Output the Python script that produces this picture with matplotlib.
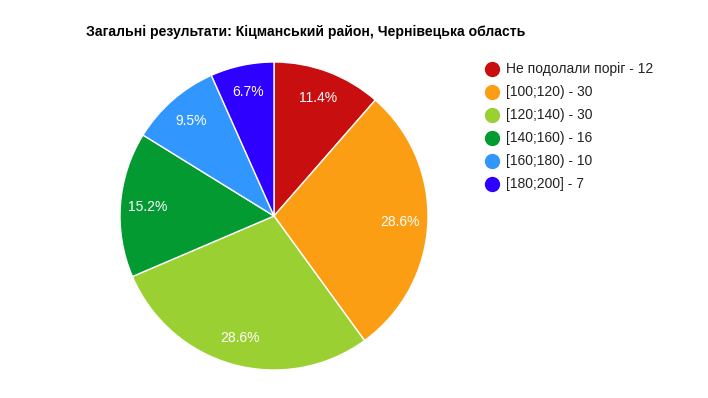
import matplotlib
matplotlib.use("Agg")
import matplotlib.pyplot as plt

plt.rcParams['font.family'] = ['Liberation Sans', 'DejaVu Sans']

title = "Загальні результати: Кіцманський район, Чернівецька область"
categories = ["Не подолали поріг", "[100;120)", "[120;140)", "[140;160)", "[160;180)", "[180;200]"]
values = [12, 30, 30, 16, 10, 7]
colors = ["#c80e0e", "#fb9e14", "#9ad032", "#049a32", "#3296ff", "#2d00ff"]

W, H = 708, 398
fig = plt.figure(figsize=(W / 100, H / 100), dpi=100)
fig.patch.set_facecolor("white")

cx, cy, r = 274, 216, 154
ax = fig.add_axes([(cx - r) / W, (H - cy - r) / H, 2 * r / W, 2 * r / H])
wedges, texts, autotexts = ax.pie(
    values, colors=colors, startangle=90, counterclock=False,
    autopct='%1.1f%%', pctdistance=0.82,
    wedgeprops=dict(edgecolor='white', linewidth=1),
    textprops=dict(color='white', fontsize=10),
)
ax.set_xlim(-1, 1)
ax.set_ylim(-1, 1)
ax.set_aspect('equal')
ax.axis('off')

fig.text(86 / W, 1 - 32 / H, title, fontsize=10.1, fontweight='bold',
         color='#000000', ha='left', va='center')

# legend
lx, ly0, dy = 492, 69, 23
for i, (cat, v, c) in enumerate(zip(categories, values, colors)):
    y = ly0 + i * dy
    fig.add_artist(plt.Line2D([lx / W], [1 - y / H], marker='o', markersize=10,
                              color=c, linestyle='none', transform=fig.transFigure))
    fig.text((lx + 14) / W, 1 - y / H, f"{cat} - {v}", fontsize=10,
             color='#222222', ha='left', va='center')

fig.savefig("out.png", dpi=100)
